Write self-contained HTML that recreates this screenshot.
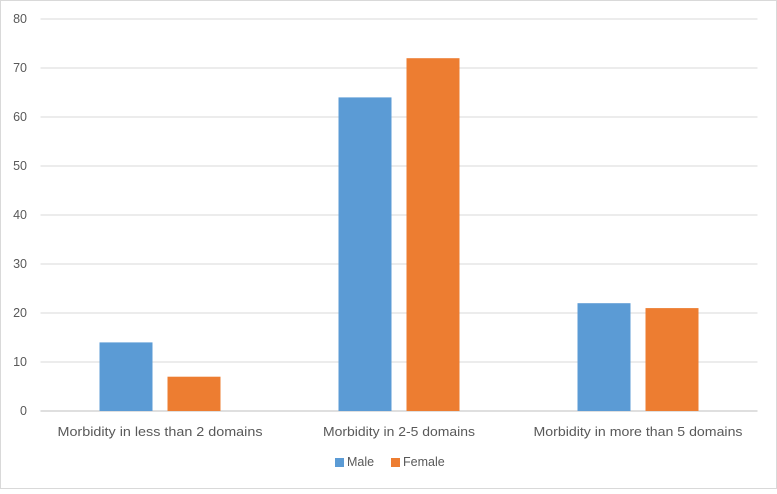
<!DOCTYPE html>
<html><head><meta charset="utf-8"><style>
body{margin:0;background:#fff;font-family:"Liberation Sans",sans-serif}
svg text{font-family:"Liberation Sans",sans-serif;fill:#595959;font-size:12.5px}
</style></head><body>
<svg id="chart" width="777" height="489" xmlns="http://www.w3.org/2000/svg">
<rect x="0.5" y="0.5" width="776" height="488" fill="#fff" stroke="#d9d9d9"/>
<g id="grid"></g><g id="bars"></g><g id="labels"></g>
<g>
<rect x="335" y="458" width="9" height="9" fill="#5b9bd5"/>
<text x="347" y="466">Male</text>
<rect x="391" y="458" width="9" height="9" fill="#ed7d31"/>
<text x="403" y="466">Female</text>
</g>
</svg>
<script>
const categories=["Morbidity in less than 2 domains","Morbidity in 2-5 domains","Morbidity in more than 5 domains"];
const male=[14,64,22];
const female=[7,72,21];
const ticks=[0,10,20,30,40,50,60,70,80];
const NS="http://www.w3.org/2000/svg";
const left=40.5,right=757.5,y0=411,y1=19,maxV=80;
const labelW=[205,152,209];
const y=v=>y0-(v/maxV)*(y0-y1);
const step=(right-left)/categories.length;
const grid=document.getElementById('grid'),bars=document.getElementById('bars'),labels=document.getElementById('labels');
function mk(t,a,p){const e=document.createElementNS(NS,t);for(const k in a)e.setAttribute(k,a[k]);p.appendChild(e);return e;}
ticks.forEach(t=>{
 const l=mk('line',{x1:left,x2:right,y1:y(t),y2:y(t),stroke:t===0?'#bfbfbf':'#d9d9d9','stroke-width':1},grid);
 
 
 const tx=mk('text',{x:27,y:y(t)+4,'text-anchor':'end'},labels);tx.textContent=t;
 
 
});
categories.forEach((c,i)=>{
 const cx=left+step*(i+0.5);
 const bm=mk('rect',{x:cx-60.5,y:y(male[i]),width:53,height:y0-y(male[i]),fill:'#5b9bd5'},bars);
 
 
 const bf=mk('rect',{x:cx+7.5,y:y(female[i]),width:53,height:y0-y(female[i]),fill:'#ed7d31'},bars);
 
 
 const w=labelW[i]||200;
 const tx=mk('text',{x:cx-w/2,y:436,textLength:w,lengthAdjust:'spacingAndGlyphs',style:'font-size:13px'},labels);tx.textContent=c;
 
 
});
</script>
</body></html>
